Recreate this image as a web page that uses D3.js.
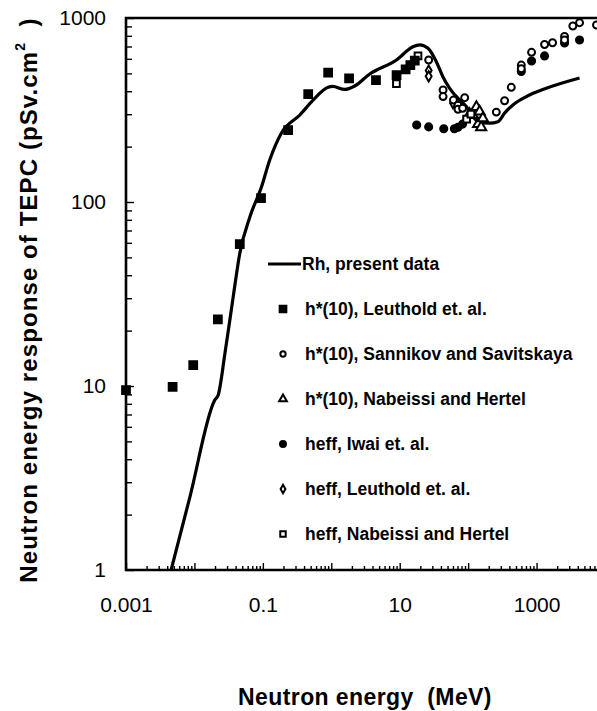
<!DOCTYPE html>
<html>
<head>
<meta charset="utf-8">
<script src="https://cdn.jsdelivr.net/npm/d3@7"></script>
<style>
  html, body { margin: 0; padding: 0; background: #fff; }
  svg { display: block; font-family: "Liberation Sans", Arial, Helvetica, sans-serif; }
</style>
</head>
<body>
<svg id="chart" width="597" height="711"></svg>
<script>
// Rh response of the TEPC (solid curve), [energy MeV, response pSv.cm2]
const rhPresent = [
  [0.0045, 0.98], [0.0086, 2.5], [0.0199, 8.4], [0.0222, 8.9], [0.0279, 15],
  [0.0369, 30.6], [0.046, 52.6], [0.0646, 83], [0.0957, 121], [0.126, 169],
  [0.187, 237], [0.347, 297], [0.542, 358], [0.898, 420], [1.05, 425],
  [1.57, 409], [2.2, 427], [3.65, 496], [8.95, 591], [15.6, 698],
  [19.6, 714], [25.9, 684], [34.4, 577], [42.9, 478], [53.7, 415],
  [71, 366], [94, 330], [117.5, 291], [138, 274], [206, 268],
  [272, 273], [341, 304], [451, 337], [708, 374], [1387, 415], [4246, 472]
];

// h*(10), Leuthold et. al.
const h10Leuthold = [
  [0.001, 9.5], [0.0048, 9.9], [0.0096, 13], [0.022, 23], [0.046, 59],
  [0.094, 105], [0.234, 246], [0.46, 386], [0.90, 505], [1.82, 470],
  [4.5, 460], [9.0, 490], [12.2, 526], [14.3, 555], [16.6, 586]
];

// h*(10), Sannikov and Savitskaya
const h10Sannikov = [
  [26.5, 591], [43, 406], [43, 374], [61, 358], [71, 336], [71, 319],
  [83, 323], [89, 369], [258, 308], [341, 355], [427, 420], [598, 555],
  [598, 530], [845, 651], [1309, 718], [1713, 734], [2563, 794],
  [2563, 760], [3388, 905], [4246, 943], [7516, 916]
];

// h*(10), Nabeissi and Hertel
const h10Nabeissi = [
  [105, 300], [117, 297], [132, 328], [140, 265], [147, 310], [155, 255], [164, 285]
];

// heff, Iwai et. al.
const heffIwai = [
  [17.7, 262], [26.5, 256], [44, 250], [63, 250], [71, 255], [83, 265],
  [598, 512], [845, 584], [1309, 622], [2563, 732], [4246, 759]
];

// heff, Leuthold et. al.
const heffLeuthold = [
  [26.5, 518], [26.5, 482], [60, 345]
];

// heff, Nabeissi and Hertel
const heffNabeissi = [
  [8.95, 440], [18.5, 622], [95, 282], [110, 300]
];

const xTickLabels = [0.001, 0.1, 10, 1000];
const yTickLabels = [1, 10, 100, 1000];

const legendLabels = [
  "Rh, present data",
  "h*(10), Leuthold et. al.",
  "h*(10), Sannikov and Savitskaya",
  "h*(10), Nabeissi and Hertel",
  "heff, Iwai et. al.",
  "heff, Leuthold et. al.",
  "heff, Nabeissi and Hertel"
];

const svg = d3.select("#chart");
const plotLeft = 126, plotRight = 605, plotTop = 18, plotBottom = 570;

const x = d3.scaleLog().domain([0.001, 10000]).range([plotLeft, plotRight]);
const y = d3.scaleLog().domain([1, 1000]).range([plotBottom, plotTop]);

// minor ticks for every decade
function minors(lo, hi) {
  const out = [];
  for (let e = lo; e < hi; e++) for (let m = 2; m <= 9; m++) out.push(m * Math.pow(10, e));
  return out;
}
function decades(lo, hi) {
  const out = [];
  for (let e = lo; e <= hi; e++) out.push(Math.pow(10, e));
  return out;
}

const fmt = v => (v < 1 ? String(+v.toPrecision(1)) : String(v));

// x axis
const gx = svg.append("g").attr("transform", `translate(0,${plotBottom})`);
gx.append("g").call(d3.axisBottom(x).tickValues(minors(-3, 4).filter(v => x(v) < 597)).tickSize(-4).tickFormat(""));
gx.append("g").call(d3.axisBottom(x).tickValues(decades(-3, 3)).tickSize(-7).tickPadding(27)
  .tickFormat(v => xTickLabels.includes(v) ? fmt(v) : ""));
gx.selectAll(".domain").remove();
gx.selectAll("line").attr("stroke", "#000").attr("stroke-width", 1.4);
gx.selectAll("text").attr("font-size", 21).attr("fill", "#000");

// y axis
const gy = svg.append("g").attr("transform", `translate(${plotLeft},0)`);
gy.append("g").call(d3.axisLeft(y).tickValues(minors(0, 3)).tickSize(-6).tickFormat(""));
gy.append("g").call(d3.axisLeft(y).tickValues(decades(0, 3)).tickSize(-8).tickPadding(20)
  .tickFormat(v => yTickLabels.includes(v) ? fmt(v) : ""));
gy.selectAll(".domain").remove();
gy.selectAll("line").attr("stroke", "#000").attr("stroke-width", 1.4);
gy.selectAll("text").attr("font-size", 21).attr("fill", "#000");

// frame lines
svg.append("path")
  .attr("d", `M597,${plotTop}H${plotLeft}V${plotBottom}H597`)
  .attr("fill", "none").attr("stroke", "#000").attr("stroke-width", 2.6);

// curve
svg.append("clipPath").attr("id", "plotclip")
  .append("rect").attr("x", plotLeft).attr("y", plotTop)
  .attr("width", plotRight - plotLeft).attr("height", plotBottom - plotTop);

const line = d3.line().x(d => x(d[0])).y(d => y(d[1])).curve(d3.curveMonotoneX);
svg.append("path")
  .datum(rhPresent)
  .attr("clip-path", "url(#plotclip)")
  .attr("d", line)
  .attr("fill", "none").attr("stroke", "#000").attr("stroke-width", 3.2)
  .attr("stroke-linejoin", "round");

// marker drawing
const sym = {
  squareFilled: { type: d3.symbolSquare, fill: "#000" },
  circleOpen: { type: d3.symbolCircle, fill: "#fff" },
  triangleOpen: { type: d3.symbolTriangle, fill: "#fff" },
  circleFilled: { type: d3.symbolCircle, fill: "#000" },
  diamondOpen: { type: d3.symbolDiamond, fill: "#fff" },
  squareOpen: { type: d3.symbolSquare, fill: "#fff" }
};

function drawPoints(data, kind, size) {
  const s = sym[kind];
  svg.append("g").selectAll("path").data(data).join("path")
    .attr("transform", d => `translate(${x(d[0])},${y(d[1])})`)
    .attr("d", d3.symbol().type(s.type).size(size))
    .attr("fill", s.fill).attr("stroke", "#000").attr("stroke-width", 2);
}

drawPoints(heffIwai, "circleFilled", 40);
drawPoints(h10Nabeissi, "triangleOpen", 45);
drawPoints(heffNabeissi, "squareOpen", 45);
drawPoints(h10Leuthold, "squareFilled", 60);
drawPoints(heffLeuthold, "diamondOpen", 30);
drawPoints(h10Sannikov, "circleOpen", 38);

// legend
const legend = svg.append("g");
const legendKinds = [null, "squareFilled", "circleOpen", "triangleOpen", "circleFilled", "diamondOpen", "squareOpen"];
const legendSizes = [0, 45, 22, 26, 28, 20, 30];
legendLabels.forEach((label, i) => {
  const cy = 264 + i * 45;
  if (i === 0) {
    legend.append("line").attr("x1", 268).attr("x2", 301).attr("y1", cy).attr("y2", cy)
      .attr("stroke", "#000").attr("stroke-width", 3);
  } else {
    const s = sym[legendKinds[i]];
    legend.append("path")
      .attr("transform", `translate(283,${cy})`)
      .attr("d", d3.symbol().type(s.type).size(legendSizes[i]))
      .attr("fill", s.fill).attr("stroke", "#000").attr("stroke-width", 2);
  }
  legend.append("text")
    .attr("x", i === 0 ? 302 : 305).attr("y", cy).attr("dy", "0.35em")
    .attr("font-size", 17.5).attr("font-weight", "bold").attr("fill", "#000")
    .text(label);
});

// axis titles
svg.append("text")
  .attr("x", 365).attr("y", 705)
  .attr("text-anchor", "middle").attr("font-size", 23).attr("font-weight", "bold")
  .attr("letter-spacing", 0.4).style("white-space", "pre")
  .text("Neutron energy  (MeV)");

const yTitle = svg.append("text")
  .attr("transform", "translate(37,300) rotate(-90)")
  .attr("text-anchor", "middle").attr("font-size", 24).attr("font-weight", "bold")
  .attr("letter-spacing", 1.1).style("white-space", "pre");
yTitle.append("tspan").text("Neutron energy response of TEPC (pSv.cm");
yTitle.append("tspan").attr("font-size", 14).attr("dy", "-0.85em").text("2");
yTitle.append("tspan").attr("dy", "0.5em").text("  )");
</script>
</body>
</html>
